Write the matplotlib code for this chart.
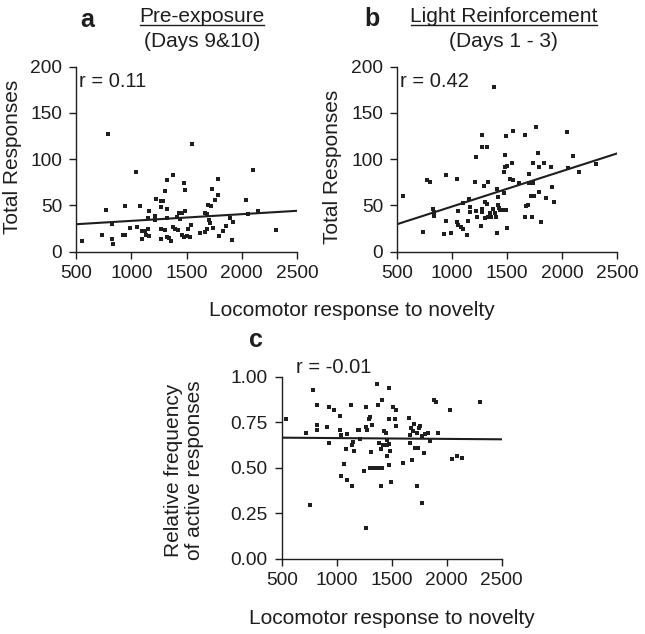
import numpy as np
import matplotlib
matplotlib.use("Agg")
import matplotlib.pyplot as plt
from matplotlib.lines import Line2D

plt.rcParams['font.family'] = ['Liberation Sans', 'DejaVu Sans']

# Panel a: pre-exposure (days 9&10)
a_x = [551, 793, 772, 733, 829, 829, 838, 923, 941, 941, 989, 1041, 1056, 1080,
       1098, 1101, 1122, 1134, 1150, 1162, 1165, 1150, 1213, 1222, 1219, 1267,
       1273, 1288, 1301, 1328, 1376, 1325, 1322, 1270, 1273, 1301, 1322, 1343,
       1361, 1382, 1400, 1421, 1418, 1430, 1443, 1458, 1479, 1485, 1488, 1461,
       1479, 1500, 1518, 1539, 1533, 1554, 1618, 1666, 1684, 1669, 1687, 1696,
       1726, 1735, 1757, 1781, 1787, 1705, 1717, 1741, 1790, 1826, 1853, 1896,
       1923, 1914, 2038, 2053, 2101, 2150, 2310]
a_y = [12, 127, 45, 18, 30, 14, 8, 18, 18, 49, 26, 86, 27, 49,
       14, 22, 22, 18, 25, 17, 44, 36, 34, 57, 39, 48,
       55, 55, 66, 77, 83, 46, 36, 25, 14, 23, 16, 15,
       12, 27, 25, 23, 38, 42, 35, 42, 74, 67, 44, 18,
       16, 17, 25, 29, 16, 116, 20, 21, 24, 42, 41, 50,
       49, 68, 56, 79, 61, 34, 31, 26, 17, 22, 28, 36,
       32, 13, 56, 41, 88, 44, 23]
a_fit = [29.7, 44.2]

# Panel b: light reinforcement (days 1 - 3)
b_x = [551, 733, 772, 796, 829, 838, 838, 923, 941, 944, 989, 1041, 1044, 1056,
       1059, 1080, 1098, 1098, 1134, 1146, 1152, 1162, 1165, 1213, 1222, 1222,
       1231, 1261, 1273, 1276, 1273, 1276, 1322, 1295, 1325, 1298, 1322, 1301,
       1328, 1346, 1352, 1370, 1379, 1388, 1397, 1406, 1409, 1418, 1421, 1430,
       1436, 1467, 1470, 1473, 1485, 1482, 1488, 1491, 1500, 1503, 1527, 1545,
       1551, 1551, 1606, 1666, 1666, 1669, 1693, 1702, 1702, 1720, 1723, 1735,
       1738, 1747, 1763, 1781, 1793, 1793, 1811, 1835, 1856, 1899, 1911, 1929,
       2047, 2056, 2101, 2150, 2313]
b_y = [60, 21, 78, 75, 46, 43, 39, 19, 33, 83, 20, 32, 79, 44,
       29, 27, 53, 25, 18, 33, 57, 43, 48, 75, 102, 44,
       37, 28, 43, 46, 126, 113, 113, 71, 75, 54, 52, 36,
       37, 42, 37, 46, 178, 42, 38, 20, 68, 59, 50, 47,
       45, 45, 63, 86, 92, 104, 125, 45, 26, 93, 79, 96,
       130, 77, 74, 126, 37, 49, 51, 84, 74, 60, 37, 74,
       96, 60, 135, 107, 92, 64, 32, 96, 58, 92, 70, 54,
       129, 90, 103, 86, 95]
b_fit = [29.7, 106.2]

# Panel c: relative frequency of active responses
c_x = [542, 724, 761, 782, 818, 821, 824, 912, 933, 933, 979, 1033, 1030, 1042,
       1070, 1036, 1082, 1091, 1091, 1127, 1139, 1142, 1152, 1158, 1197, 1206,
       1212, 1248, 1264, 1264, 1264, 1273, 1291, 1303, 1300, 1315, 1321, 1324,
       1358, 1370, 1373, 1388, 1403, 1409, 1409, 1403, 1388, 1424, 1430, 1445,
       1455, 1461, 1461, 1473, 1476, 1479, 1479, 1485, 1491, 1515, 1530, 1539,
       1539, 1606, 1661, 1664, 1670, 1679, 1688, 1697, 1706, 1715, 1727, 1733,
       1742, 1752, 1758, 1773, 1776, 1797, 1806, 1833, 1848, 1888, 1906, 1918,
       2030, 2045, 2091, 2139, 2303]
c_y = [0.767, 0.690, 0.297, 0.929, 0.842, 0.733, 0.709, 0.723, 0.832, 0.637,
       0.817, 0.782, 0.705, 0.678, 0.520, 0.456, 0.604, 0.687, 0.430, 0.844,
       0.399, 0.626, 0.643, 0.593, 0.705, 0.705, 0.657, 0.482, 0.835, 0.723,
       0.167, 0.709, 0.769, 0.777, 0.500, 0.586, 0.734, 0.498, 0.500, 0.962,
       0.844, 0.498, 0.401, 0.874, 0.500, 0.601, 0.637, 0.626, 0.703, 0.692,
       0.623, 0.566, 0.652, 0.630, 0.767, 0.513, 0.940, 0.593, 0.423, 0.835,
       0.769, 0.815, 0.731, 0.526, 0.775, 0.636, 0.678, 0.720, 0.540, 0.703,
       0.740, 0.610, 0.397, 0.690, 0.606, 0.720, 0.729, 0.308, 0.676, 0.579,
       0.687, 0.690, 0.648, 0.872, 0.861, 0.689, 0.819, 0.548, 0.566, 0.553,
       0.861]
c_fit = [0.665, 0.656]

fit_x = [500, 2500]
x_ticks = [500, 1000, 1500, 2000, 2500]

W, H = 645, 634
ink = '#1e1e1e'

fig = plt.figure(figsize=(W / 100, H / 100), dpi=100)


def px(x, y):
    return x / W, 1 - y / H


def style(ax):
    for s in ['top', 'right']:
        ax.spines[s].set_visible(False)
    for s in ['left', 'bottom']:
        ax.spines[s].set_linewidth(1.0)
        ax.spines[s].set_color(ink)
    ax.tick_params(direction='out', length=5, width=1.0, colors=ink,
                   labelsize=13.8)
    ax.tick_params(axis='x', pad=4.5)
    ax.tick_params(axis='y', pad=5)
    ax.set_xlim(500, 2500)
    ax.set_xticks(x_ticks)


def axes_at(left, top, right, bottom):
    l, b = px(left, bottom)
    return fig.add_axes([l, b, (right - left) / W, (bottom - top) / H])


# panel a
ax_a = axes_at(76, 66.7, 297, 251.7)
ax_a.scatter(a_x, a_y, marker='s', s=12, color=ink, linewidths=0, zorder=3)
ax_a.plot(fit_x, a_fit, color=ink, lw=1.5)
style(ax_a)
ax_a.set_ylim(0, 200)
ax_a.set_yticks([0, 50, 100, 150, 200])
ax_a.set_ylabel('Total Responses', fontsize=15, color=ink, va='center')
ax_a.yaxis.set_label_coords((13 - 76) / 221, (251.7 - 157) / 185)

# panel b
ax_b = axes_at(397, 66.7, 617, 251.7)
ax_b.scatter(b_x, b_y, marker='s', s=12, color=ink, linewidths=0, zorder=3)
ax_b.plot(fit_x, b_fit, color=ink, lw=1.5)
style(ax_b)
ax_b.set_ylim(0, 200)
ax_b.set_yticks([0, 50, 100, 150, 200])
ax_b.set_ylabel('Total Responses', fontsize=15, color=ink, va='center')
ax_b.yaxis.set_label_coords((333 - 397) / 220, (251.7 - 167) / 185)

# panel c
ax_c = axes_at(281.7, 376.7, 501.7, 558.7)
ax_c.scatter(c_x, c_y, marker='s', s=12, color=ink, linewidths=0, zorder=3)
ax_c.plot(fit_x, c_fit, color=ink, lw=1.5)
style(ax_c)
ax_c.set_ylim(0, 1)
ax_c.set_yticks([0, 0.25, 0.5, 0.75, 1.0])
ax_c.set_yticklabels(['0.00', '0.25', '0.50', '0.75', '1.00'])
ax_c.set_ylabel('Relative frequency\nof active responses', fontsize=15,
                color=ink, va='center', linespacing=1.1)
ax_c.yaxis.set_label_coords((184 - 281.7) / 220, (558.7 - 470) / 182)
ax_c.set_xlabel('Locomotor response to novelty', fontsize=15, color=ink,
                va='center')
ax_c.xaxis.set_label_coords(0.5, (558.7 - 618) / 182)

# shared x label of the top row
fig.text(*px(352, 310), 'Locomotor response to novelty', fontsize=15,
         color=ink, ha='center', va='center')

# panel letters, titles, r values
fig.text(*px(87, 27.3), 'a', fontsize=18, fontweight='bold', color=ink,
         ha='center', va='baseline')
fig.text(*px(372, 26.5), 'b', fontsize=18, fontweight='bold', color=ink,
         ha='center', va='baseline')
fig.text(*px(255.5, 346.7), 'c', fontsize=18, fontweight='bold', color=ink,
         ha='center', va='baseline')

fig.text(*px(202, 22), 'Pre-exposure', fontsize=15, color=ink,
         ha='center', va='baseline')
fig.text(*px(202, 46.7), '(Days 9&10)', fontsize=15, color=ink,
         ha='center', va='baseline')
fig.text(*px(503.5, 22), 'Light Reinforcement', fontsize=15, color=ink,
         ha='center', va='baseline')
fig.text(*px(503, 46.7), '(Days 1 - 3)', fontsize=15, color=ink,
         ha='center', va='baseline')

for x0, x1 in [(140, 264.3), (410.7, 596.7)]:
    (u0, v), (u1, _) = px(x0, 25), px(x1, 25)
    fig.add_artist(Line2D([u0, u1], [v, v], color=ink, lw=1.0))

fig.text(*px(79, 86.7), 'r = 0.11', fontsize=14.5, color=ink,
         ha='left', va='baseline')
fig.text(*px(400, 86.7), 'r = 0.42', fontsize=14.5, color=ink,
         ha='left', va='baseline')
fig.text(*px(296, 373.3), 'r = -0.01', fontsize=14.5, color=ink,
         ha='left', va='baseline')

fig.savefig('out.png', dpi=100)
